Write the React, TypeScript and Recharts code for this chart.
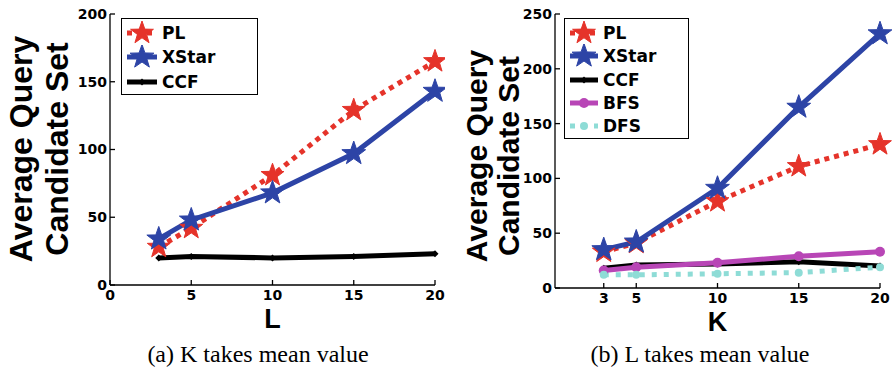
import React from 'react';
import { LineChart, Line, XAxis, YAxis, Label } from 'recharts';

// ---------- data ----------
const lValues = [3, 5, 10, 15, 20];
const kValues = [3, 5, 10, 15, 20];

const leftPL = [28, 42, 81, 129, 165];
const leftXStar = [34, 48, 68, 97, 143];
const leftCCF = [20, 21, 20, 21, 23];

const rightPL = [33, 41, 79, 111, 131];
const rightXStar = [35, 42, 91, 165, 232];
const rightCCF = [18, 21, 22, 24, 20];
const rightBFS = [16, 19, 23, 29, 33];
const rightDFS = [12, 12, 13, 14, 19];

const leftXTicks = [0, 5, 10, 15, 20];
const rightXTicks = [3, 5, 10, 15, 20];
const leftYTicks = [0, 50, 100, 150, 200];
const rightYTicks = [0, 50, 100, 150, 200, 250];

const leftSeriesNames = ['PL', 'XStar', 'CCF'];
const rightSeriesNames = ['PL', 'XStar', 'CCF', 'BFS', 'DFS'];

const yLabelLines = ['Average Query', 'Candidate Set'];
const leftXLabel = 'L';
const rightXLabel = 'K';
const leftCaption = '(a) K takes mean value';
const rightCaption = '(b) L takes mean value';

// ---------- styles ----------
type Style = { color: string; width: number; dash?: string; marker: 'star' | 'diamond' | 'circle' | 'dot'; size: number };
const STYLES: Record<string, Style> = {
  PL: { color: '#e5332a', width: 5, dash: '5 5', marker: 'star', size: 12 },
  XStar: { color: '#2d44a6', width: 5, marker: 'star', size: 12.5 },
  CCF: { color: '#000000', width: 5, marker: 'diamond', size: 3.5 },
  BFS: { color: '#b846b6', width: 5, marker: 'circle', size: 5 },
  DFS: { color: '#8edcd6', width: 5, dash: '5 7', marker: 'circle', size: 4 },
};

const starPoints = (cx: number, cy: number, R: number) => {
  const pts: string[] = [];
  for (let i = 0; i < 10; i++) {
    const a = (-90 + i * 36) * (Math.PI / 180);
    const r = i % 2 === 0 ? R : R * 0.4;
    pts.push(`${cx + r * Math.cos(a)},${cy + r * Math.sin(a)}`);
  }
  return pts.join(' ');
};

const Marker = ({ cx, cy, s }: { cx: number; cy: number; s: Style }) => {
  if (s.marker === 'star') return <polygon points={starPoints(cx, cy, s.size)} fill={s.color} stroke={s.color} strokeWidth={1} />;
  if (s.marker === 'diamond')
    return (
      <polygon
        points={`${cx},${cy - s.size} ${cx + s.size},${cy} ${cx},${cy + s.size} ${cx - s.size},${cy}`}
        fill={s.color}
      />
    );
  return <circle cx={cx} cy={cy} r={s.size} fill={s.color} />;
};

const makeDot = (name: string) => (props: any) => {
  const { cx, cy, index } = props;
  if (cx == null || cy == null) return <g key={`${name}-${index}`} />;
  return (
    <g key={`${name}-${index}`}>
      <Marker cx={cx} cy={cy} s={STYLES[name]} />
    </g>
  );
};

const TICK_STYLE = { fontFamily: 'DejaVu Sans', fontWeight: 'bold', fontSize: 14, fill: '#000' } as const;
const AXIS_STROKE = { stroke: '#000', strokeWidth: 1.3 };

type PanelProps = {
  left: number;
  width: number;
  xs: number[];
  series: Record<string, number[]>;
  names: string[];
  xTicks: number[];
  yTicks: number[];
  yMax: number;
  plotBottom: number;
  xLabel: string;
  caption: string;
  labelX1: number;
  labelX2: number;
  labelCY: number;
  labelFont: number;
  legend: { x: number; y: number; w: number; rowH: number; sampleW: number };
  captionX: number;
};

function Panel(p: PanelProps) {
  const data = p.xs.map((x, i) => {
    const row: any = { x };
    p.names.forEach((n) => (row[n] = p.series[n][i]));
    return row;
  });
  const plotLeft = 110;
  const plotRight = 435;
  const H = 373;
  return (
    <div style={{ position: 'absolute', left: p.left, top: 0, width: p.width, height: H }}>
      <LineChart
        width={p.width}
        height={H}
        data={data}
        margin={{ top: 14, right: p.width - plotRight, bottom: 0, left: 0 }}
      >
        <XAxis
          dataKey="x"
          type="number"
          domain={[0, 20]}
          ticks={p.xTicks}
          height={H - p.plotBottom}
          tickSize={-5}
          tickMargin={10}
          axisLine={AXIS_STROKE}
          tickLine={AXIS_STROKE}
          tick={TICK_STYLE}
          interval={0}
        >
          <Label
            content={() => (
              <text
                x={(plotLeft + plotRight) / 2}
                y={p.plotBottom + 43}
                textAnchor="middle"
                fontFamily="Liberation Sans"
                fontWeight="bold"
                fontSize={27}
                fill="#000"
              >
                {p.xLabel}
              </text>
            )}
          />
        </XAxis>
        <XAxis
          xAxisId="top"
          orientation="top"
          type="number"
          domain={[0, 20]}
          ticks={p.xTicks}
          height={0}
          mirror
          tick={false}
          tickSize={5}
          axisLine={AXIS_STROKE}
          tickLine={AXIS_STROKE}
          interval={0}
        />
        <YAxis
          type="number"
          domain={[0, p.yMax]}
          ticks={p.yTicks}
          width={plotLeft}
          tickSize={-5}
          tickMargin={8}
          axisLine={AXIS_STROKE}
          tickLine={AXIS_STROKE}
          tick={TICK_STYLE}
          interval={0}
        >
          <Label
            content={() => (
              <g>
                {yLabelLines.map((t, i) => {
                  const x = i === 0 ? p.labelX1 : p.labelX2;
                  return (
                    <text
                      key={t}
                      x={x}
                      y={p.labelCY}
                      transform={`rotate(-90, ${x}, ${p.labelCY})`}
                      textAnchor="middle"
                      dominantBaseline="central"
                      fontFamily="Liberation Sans"
                      fontWeight="bold"
                      fontSize={p.labelFont}
                      fill="#000"
                    >
                      {t}
                    </text>
                  );
                })}
              </g>
            )}
          />
        </YAxis>
        <YAxis
          yAxisId="right"
          orientation="right"
          type="number"
          domain={[0, p.yMax]}
          ticks={p.yTicks}
          width={0}
          mirror
          tick={false}
          tickSize={5}
          axisLine={AXIS_STROKE}
          tickLine={AXIS_STROKE}
          interval={0}
        />
        {p.names.map((n) => {
          const s = STYLES[n];
          return (
            <Line
              key={n}
              dataKey={n}
              type="linear"
              stroke={s.color}
              strokeWidth={s.width}
              strokeDasharray={s.dash}
              strokeLinecap="butt"
              dot={makeDot(n)}
              activeDot={false}
              isAnimationActive={false}
            />
          );
        })}
      </LineChart>
      {/* legend */}
      <div
        style={{
          position: 'absolute',
          left: p.legend.x,
          top: p.legend.y,
          width: p.legend.w,
          height: p.legend.rowH * p.names.length + 4,
          border: '1.3px solid #000',
          background: '#fff',
          boxSizing: 'border-box',
        }}
      >
        {p.names.map((n, i) => {
          const s = STYLES[n];
          const cy = 2 + p.legend.rowH * i + p.legend.rowH / 2;
          return (
            <div key={n} style={{ position: 'absolute', left: 0, top: cy - 12, height: 24, width: '100%' }}>
              <svg width={p.legend.sampleW + 10} height={24} style={{ position: 'absolute', left: 4, top: 0 }}>
                <line
                  x1={1}
                  y1={12}
                  x2={p.legend.sampleW + 1}
                  y2={12}
                  stroke={s.color}
                  strokeWidth={s.width}
                  strokeDasharray={s.dash}
                />
                <Marker cx={p.legend.sampleW / 2 + 1} cy={12} s={s} />
              </svg>
              <span
                style={{
                  position: 'absolute',
                  left: p.legend.sampleW + 10,
                  top: 0,
                  lineHeight: '24px',
                  fontFamily: 'DejaVu Sans',
                  fontWeight: 'bold',
                  fontSize: 17,
                  color: '#000',
                  whiteSpace: 'nowrap',
                }}
              >
                {n}
              </span>
            </div>
          );
        })}
      </div>
      <svg width={p.width} height={40} style={{ position: 'absolute', left: 0, top: 333 }}>
        <text
          x={p.captionX}
          y={29}
          textAnchor="middle"
          fontFamily="Liberation Serif"
          fontSize={24}
          fill="#000"
        >
          {p.caption}
        </text>
      </svg>
    </div>
  );
}

export default function App() {
  return (
    <div style={{ position: 'absolute', left: 0, top: 0, width: 894, height: 373, background: '#fff', overflow: 'hidden' }}>
      <Panel
        left={0}
        width={445}
        xs={lValues}
        series={{ PL: leftPL, XStar: leftXStar, CCF: leftCCF }}
        names={leftSeriesNames}
        xTicks={leftXTicks}
        yTicks={leftYTicks}
        yMax={200}
        plotBottom={285}
        xLabel={leftXLabel}
        caption={leftCaption}
        labelX1={21}
        labelX2={57}
        labelCY={149}
        labelFont={32}
        legend={{ x: 121, y: 18, w: 137, rowH: 24.3, sampleW: 30 }}
        captionX={258}
      />
      <Panel
        left={445}
        width={449}
        xs={kValues}
        series={{ PL: rightPL, XStar: rightXStar, CCF: rightCCF, BFS: rightBFS, DFS: rightDFS }}
        names={rightSeriesNames}
        xTicks={rightXTicks}
        yTicks={rightYTicks}
        yMax={250}
        plotBottom={288}
        xLabel={rightXLabel}
        caption={rightCaption}
        labelX1={31}
        labelX2={63}
        labelCY={156}
        labelFont={30}
        legend={{ x: 119, y: 18, w: 125, rowH: 23.4, sampleW: 28 }}
        captionX={255}
      />
    </div>
  );
}
